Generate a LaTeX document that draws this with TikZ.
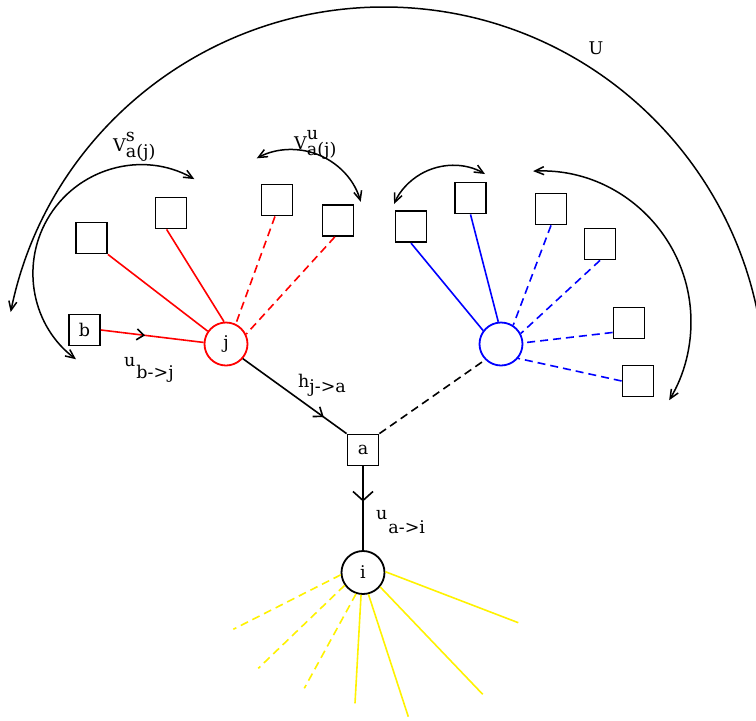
\documentclass[tikz,border=0pt]{standalone}
\usepackage{fontspec}
\setmainfont{DejaVu Serif}
\usetikzlibrary{arrows.meta,decorations.markings}
\begin{document}
\begin{tikzpicture}[x=1pt,y=1pt,
  font=\fontsize{17.5}{20}\selectfont,
  box/.style={draw, line width=1.8pt, minimum size=31pt, inner sep=0pt},
  vtx/.style={draw, circle, line width=1.8pt, minimum size=43pt, inner sep=0pt},
  edge/.style={line width=1.6pt},
  dsh/.style={dash pattern=on 8pt off 5pt},
  arcboth/.style={line width=1.5pt, {Straight Barb[length=9pt,width=8pt]}-{Straight Barb[length=9pt,width=8pt]}},
  arcend/.style={line width=1.5pt, -{Straight Barb[length=9pt,width=8pt]}},
  midarrow/.style args={#1/#2/#3}{postaction={decorate, decoration={markings,
     mark=at position #1 with {\arrow[black, line width=1.6pt]{Straight Barb[length=#2pt, width=#3pt]}}}}},
  lbl/.style={inner sep=0pt, anchor=base west}
]
\useasboundingbox (0,0) rectangle (756,-721);
\clip (0,0) rectangle (756,-721);

% red group
\node[vtx, draw=red] (j) at (226,-344) {j};
\node[box] (b) at (84.5,-330) {b};
\node[box] (r1) at (91.5,-238) {};
\node[box] (r2) at (171,-213) {};
\node[box] (r3) at (277,-200) {};
\node[box] (r4) at (338,-220.5) {};

% factor a
\node[box] (a) at (363,-450) {a};

% blue group
\node[vtx, draw=blue] (bc) at (501,-344) {};
\node[box] (B1) at (411,-226.7) {};
\node[box] (B2) at (470.5,-198) {};
\node[box] (B3) at (551,-209) {};
\node[box] (B4) at (600,-244) {};
\node[box] (B5) at (629,-323) {};
\node[box] (B6) at (638,-381) {};

% node i
\node[vtx] (i) at (363,-572.5) {i};

% red edges
\draw[edge, red, midarrow=0.43/7/11] (b.east) -- (j.176);
\draw[edge, red] (r1.south east) -- (j.145);
\draw[edge, red] (r2.-105) -- (j.95);
\draw[edge, red, dsh] (r3.-97) -- (j.64);
\draw[edge, red, dsh] (r4.-101) -- (j.26);

% blue edges
\draw[edge, blue] (B1.south) -- (bc.143);
\draw[edge, blue] (B2.south) -- (bc.97);
\draw[edge, blue, dsh] (B3.south) -- (bc.57);
\draw[edge, blue, dsh] (B4.south) -- (bc.28);
\draw[edge, blue, dsh] (B5.-150) -- (bc.3);
\draw[edge, blue, dsh] (B6.west) -- (bc.-40);

% black edges
\draw[edge, midarrow=0.78/8/12] (j.-41) -- (a.north west);
\draw[edge, dsh] (a.north east) -- (bc.-135);
\draw[edge, midarrow=0.42/9/20] (a.south) -- (i.north);

% yellow edges
\coordinate (y1) at (233.3,-629.3);
\coordinate (y2) at (258.3,-668.3);
\coordinate (y3) at (304.3,-688.3);
\coordinate (y4) at (355,-703.3);
\coordinate (y5) at (408.3,-716.7);
\coordinate (y6) at (482.7,-694.3);
\coordinate (y7) at (518.3,-622.7);
\draw[edge, yellow, dsh] (i.186) -- (y1);
\draw[edge, yellow, dsh] (i.215) -- (y2);
\draw[edge, yellow, dsh] (i.252) -- (y3);
\draw[edge, yellow] (i.265) -- (y4);
\draw[edge, yellow] (i.284) -- (y5);
\draw[edge, yellow] (i.320) -- (y6);
\draw[edge, yellow] (i.2) -- (y7);

% curved arrows
\draw[arcend] ([shift={(-2:381pt)}]384,-388) arc[start angle=-2, end angle=168.5, radius=381pt];
\draw[arcboth] ([shift={(60.4:108pt)}]141,-273) arc[start angle=60.4, end angle=233, radius=108pt];
\draw[arcboth] ([shift={(16:72.2pt)}]291.3,-221.7) arc[start angle=16, end angle=118.6, radius=72.2pt];
\draw[arcboth] ([shift={(60:64.2pt)}]452.9,-229.6) arc[start angle=60, end angle=156.5, radius=64.2pt];
\draw[arcboth] ([shift={(92.6:151pt)}]540,-322) arc[start angle=92.6, end angle=-31.2, radius=151pt];

% labels
\node (lU) at (596,-48.5) {U};
\node[lbl] (lVs) at (113,-151.7) {V\rlap{\raisebox{10pt}{s}}\raisebox{-6pt}{a(j)}};
\node[lbl] (lVu) at (294,-149) {V\rlap{\raisebox{10pt}{u}}\raisebox{-6pt}{a(j)}};
\node[lbl] (lub) at (124,-366) {u\hspace{1pt}\raisebox{-12pt}{b->j}};
\node[lbl] (lh) at (298,-387) {h\raisebox{-5pt}{j->a}};
\node[lbl] (lua) at (376,-519) {u\hspace{1pt}\raisebox{-14pt}{a->i}};
\end{tikzpicture}
\end{document}
